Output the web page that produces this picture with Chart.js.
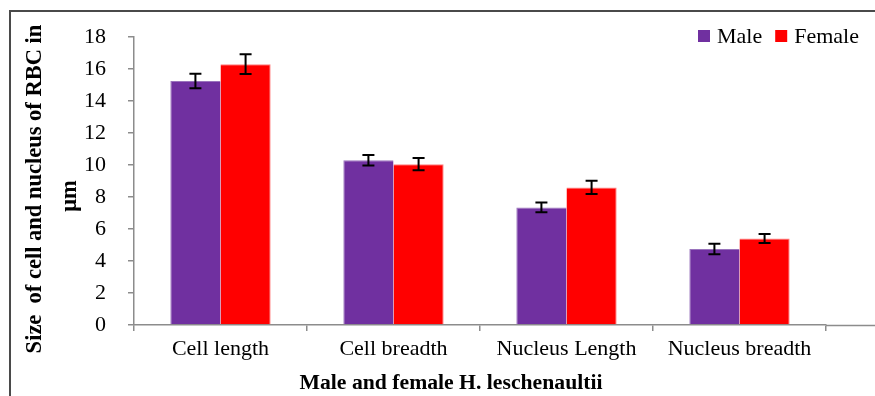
<!DOCTYPE html>
<html><head><meta charset="utf-8">
<script src="https://cdn.jsdelivr.net/npm/chart.js@4.4.0/dist/chart.umd.min.js"></script>
<style>html,body{margin:0;padding:0;background:#fff;overflow:hidden}#wrap{width:875px;height:396px;position:relative}</style>
</head><body><div id="wrap"><canvas id="c" width="875" height="396"></canvas></div>
<script>
const categories = ['Cell length', 'Cell breadth', 'Nucleus Length', 'Nucleus breadth'];
const seriesNames = ['Male', 'Female'];
const maleValues = [15.25, 10.3, 7.35, 4.75];
const femaleValues = [16.3, 10.05, 8.6, 5.4];
const maleErrors = [0.45, 0.33, 0.3, 0.33];
const femaleErrors = [0.62, 0.38, 0.42, 0.28];
const yTicks = [0, 2, 4, 6, 8, 10, 12, 14, 16, 18];
const yAxisTitle = ['Size  of cell and nucleus of RBC in', 'μm'];
const xAxisTitle = 'Male and female H. leschenaultii';
const colors = ['#7030A0', '#FF0000'];

const SERIF = '"Liberation Serif", "Times New Roman", serif';
const AXIS = '#8c8c8c';

const framePlugin = {
  id: 'frame',
  beforeDraw(chart) {
    const ctx = chart.ctx;
    ctx.save();
    ctx.fillStyle = '#fff';
    ctx.fillRect(0, 0, chart.width, chart.height);
    ctx.strokeStyle = '#4a4a4a';
    ctx.lineWidth = 2;
    ctx.beginPath();
    ctx.moveTo(10, chart.height);
    ctx.lineTo(10, 11);
    ctx.lineTo(chart.width, 11);
    ctx.stroke();
    ctx.restore();
  },
  afterDraw(chart) {
    const ctx = chart.ctx, a = chart.chartArea;
    ctx.save();
    ctx.strokeStyle = AXIS;
    ctx.lineWidth = 1.5;
    ctx.beginPath();
    ctx.moveTo(a.right, a.bottom + 0.5);
    ctx.lineTo(chart.width, a.bottom + 0.5);
    ctx.stroke();
    ctx.restore();
  }
};

const errorBarPlugin = {
  id: 'errorBars',
  afterDatasetsDraw(chart) {
    const ctx = chart.ctx, ys = chart.scales.y;
    ctx.save();
    ctx.strokeStyle = '#000';
    ctx.lineWidth = 2;
    chart.data.datasets.forEach((ds, di) => {
      const meta = chart.getDatasetMeta(di);
      meta.data.forEach((bar, i) => {
        const v = ds.data[i], e = ds.errors[i];
        const y1 = ys.getPixelForValue(v + e), y2 = ys.getPixelForValue(v - e);
        const x = bar.x, h = 6;
        ctx.beginPath();
        ctx.moveTo(x, y1); ctx.lineTo(x, y2);
        ctx.moveTo(x - h, y1); ctx.lineTo(x + h, y1);
        ctx.moveTo(x - h, y2); ctx.lineTo(x + h, y2);
        ctx.stroke();
      });
    });
    ctx.restore();
  }
};

const titlesLegendPlugin = {
  id: 'titlesLegend',
  afterDraw(chart) {
    const ctx = chart.ctx;
    ctx.save();
    ctx.fillStyle = '#000';
    ctx.textAlign = 'center';
    ctx.textBaseline = 'middle';
    // x title
    ctx.font = 'bold 21.7px ' + SERIF;
    ctx.fillText(xAxisTitle, 451, 383);
    // y title (two lines)
    ctx.font = 'bold 22.5px ' + SERIF;
    const pos = [[35, 189], [70, 196]];
    yAxisTitle.forEach((t, i) => {
      ctx.save();
      ctx.translate(pos[i][0], pos[i][1]);
      ctx.rotate(-Math.PI / 2);
      ctx.fillText(t, 0, 0);
      ctx.restore();
    });
    // legend
    ctx.font = '22px ' + SERIF;
    ctx.textAlign = 'left';
    let x = 698;
    chart.data.datasets.forEach((ds) => {
      ctx.fillStyle = ds.backgroundColor;
      ctx.fillRect(x, 30, 12, 12);
      ctx.fillStyle = '#000';
      ctx.fillText(ds.label, x + 19, 37);
      x += 19 + ctx.measureText(ds.label).width + 13;
    });
    ctx.restore();
  }
};

new Chart(document.getElementById('c'), {
  type: 'bar',
  data: {
    labels: categories,
    datasets: [
      { label: seriesNames[0], data: maleValues, errors: maleErrors, backgroundColor: colors[0], borderColor: '#9a74bd', borderWidth: { top: 1, left: 1, right: 0, bottom: 0 } },
      { label: seriesNames[1], data: femaleValues, errors: femaleErrors, backgroundColor: colors[1], borderColor: '#ff8080', borderWidth: { top: 1, left: 0, right: 1, bottom: 0 } }
    ]
  },
  options: {
    responsive: false,
    animation: false,
    devicePixelRatio: 1,
    layout: { padding: { top: 37, left: 0, right: 49, bottom: 0 } },
    datasets: { bar: { categoryPercentage: 0.58, barPercentage: 1.0 } },
    plugins: { legend: { display: false }, tooltip: { enabled: false } },
    scales: {
      x: {
        offset: true,
        grid: { display: true, offset: true, drawOnChartArea: false, drawTicks: true, tickLength: 6, color: AXIS, lineWidth: 1.5 },
        border: { display: true, color: AXIS, width: 1.5 },
        ticks: { color: '#000', font: { family: SERIF, size: 22 }, padding: 5, maxRotation: 0, autoSkip: false },
        afterFit(s) { s.height = 71; }
      },
      y: {
        min: 0, max: 18,
        afterBuildTicks(s) { s.ticks = yTicks.map(v => ({ value: v })); },
        grid: { display: true, drawOnChartArea: false, drawTicks: true, tickLength: 6, color: AXIS, lineWidth: 1.5 },
        border: { display: true, color: AXIS, width: 1.5 },
        ticks: { color: '#000', font: { family: SERIF, size: 22 }, padding: 22 },
        afterFit(s) { s.width = 134; }
      }
    }
  },
  plugins: [framePlugin, errorBarPlugin, titlesLegendPlugin]
});
</script>
</body></html>
